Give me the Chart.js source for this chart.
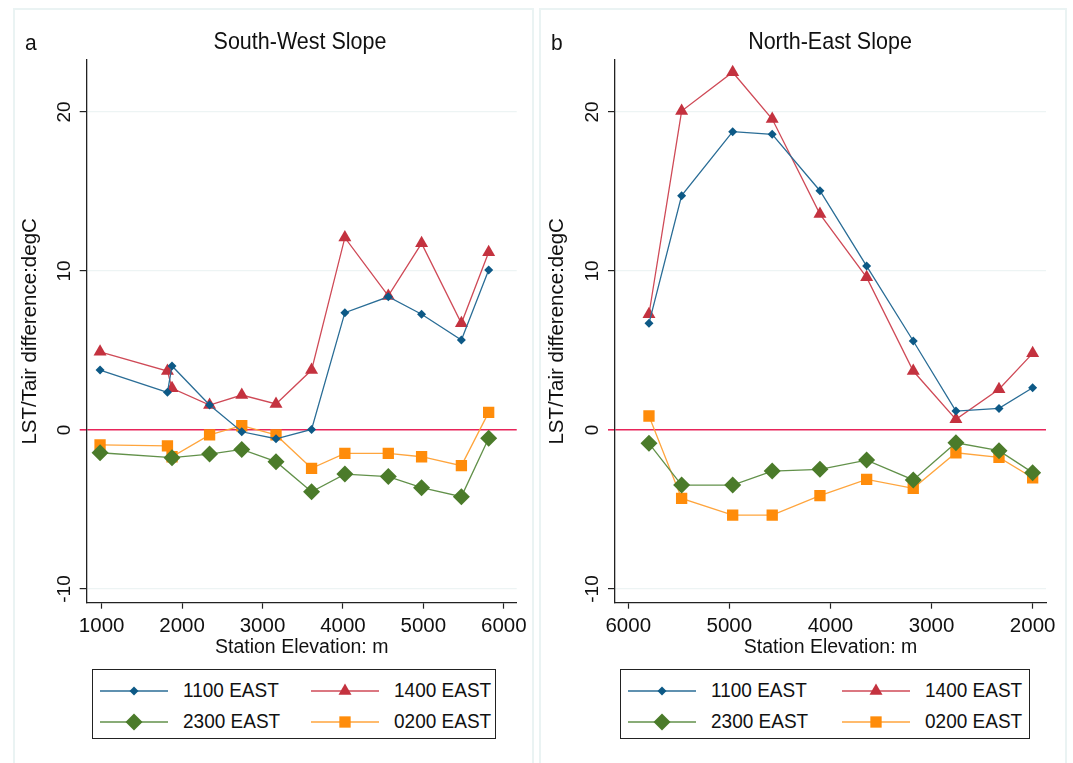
<!DOCTYPE html>
<html>
<head>
<meta charset="utf-8">
<script src="https://cdn.jsdelivr.net/npm/chart.js@4.4.1/dist/chart.umd.min.js"></script>
<style>
  body { margin: 0; background: #fff; font-family: "Liberation Sans", Arial, sans-serif; color: #111; }
  .wrap { position: relative; width: 1073px; height: 763px; overflow: hidden; }
  .panel { position: absolute; border: 2px solid #eaf3f3; box-sizing: border-box; }
  .cv { position: absolute; top: 0; }
  .lbl { position: absolute; transform: translate(0, -50%) scaleY(1.08); font-size: 21px; }
  .ttl { position: absolute; transform: translate(-50%, -50%) scaleY(1.08); font-size: 21.5px; white-space: nowrap; }
  .legend { position: absolute; top: 669px; height: 70px; border: 1.3px solid #222; box-sizing: border-box; }
  .item { position: absolute; height: 24px; }
  .item svg { position: absolute; left: 0; top: 0; }
  .item span { position: absolute; top: 0; line-height: 24px; font-size: 19px; white-space: nowrap; transform: scaleY(1.08); }
</style>
</head>
<body>
<div class="wrap">
  <div class="panel" style="left:13px; top:8px; width:521px; height:760px;"></div>
  <div class="panel" style="left:539px; top:8px; width:528px; height:760px;"></div>

  <canvas id="chartA" class="cv" width="518" height="665" style="left:14px;"></canvas>
  <canvas id="chartB" class="cv" width="524" height="665" style="left:541px;"></canvas>

  <div class="lbl" style="left:25px; top:42px;">a</div>
  <div class="ttl" style="left:300px; top:42px;">South-West Slope</div>
  <div class="lbl" style="left:551px; top:42px;">b</div>
  <div class="ttl" style="left:830px; top:42px;">North-East Slope</div>

  <div class="legend" id="legendA" style="left:92px; width:404px;"></div>
  <div class="legend" id="legendB" style="left:620px; width:410px;"></div>
</div>

<script>
// series names
const seriesNames = ['1100 EAST', '1400 EAST', '2300 EAST', '0200 EAST'];

// axis ticks
const yTickVals = [-10, 0, 10, 20];
const xTickVals = [1000, 2000, 3000, 4000, 5000, 6000];
const xTickValsB = [6000, 5000, 4000, 3000, 2000];

// a: South-West slope (station elevation, m)
const swElev = [980, 1818, 1875, 2342, 2742, 3168, 3610, 4024, 4564, 4978, 5473, 5812];
const sw1100 = [3.77, 2.37, 4.03, 1.57, -0.11, -0.55, 0.04, 7.38, 8.38, 7.28, 5.66, 10.06];
const sw1400 = [4.92, 3.71, 2.62, 1.57, 2.2, 1.64, 3.77, 12.1, 8.43, 11.74, 6.71, 11.18];
const sw2300 = [-1.43, null, -1.74, -1.51, -1.22, -1.99, -3.88, -2.77, -2.93, -3.63, -4.19, -0.52];
const sw0200 = [-0.94, -1.0, -1.68, -0.31, 0.27, -0.31, -2.41, -1.47, -1.47, -1.68, -2.24, 1.11];

// b: North-East slope
const neElev = [5795, 5472, 4967, 4576, 4104, 3642, 3181, 2759, 2333, 2000];
const ne1100 = [6.71, 14.74, 18.76, 18.6, 15.05, 10.31, 5.6, 1.19, 1.36, 2.66];
const ne1400 = [7.28, 20.06, 22.5, 19.56, 13.58, 9.6, 3.71, 0.67, 2.56, 4.82];
const ne2300 = [-0.84, -3.46, -3.46, -2.58, -2.47, -1.89, -3.14, -0.8, -1.3, -2.68];
const ne0200 = [0.88, -4.3, -5.35, -5.35, -4.13, -3.1, -3.67, -1.43, -1.72, -3.0];

const FONT = '"Liberation Sans", Arial, sans-serif';

// marker / line look for each series
const looks = [
    { line: '#2a6d96', fill: '#0d5986', style: 'rectRot', r: 4.5 },
    { line: '#cf4a57', fill: '#c4323f', style: 'triangle', r: 7.5 },
    { line: '#62914a', fill: '#4b7b2a', style: 'rectRot', r: 8.5 },
    { line: '#ffa53d', fill: '#ff8c0a', style: 'rect', r: 8 }
];

// y tick labels are vertical (Stata style)
const rotatedYTicks = {
    id: 'rotatedYTicks',
    afterDraw(chart) {
        const s = chart.scales.y;
        const ctx = chart.ctx;
        ctx.save();
        ctx.font = '19px ' + FONT;
        ctx.fillStyle = '#111';
        ctx.textAlign = 'center';
        ctx.textBaseline = 'alphabetic';
        s.ticks.forEach(t => {
            const y = s.getPixelForValue(t.value);
            ctx.save();
            ctx.translate(chart.chartArea.left - 17, y);
            ctx.rotate(-Math.PI / 2);
            ctx.fillText(String(t.value), 0, 0);
            ctx.restore();
        });
        ctx.restore();
    }
};

function toPoints(xs, ys) {
    return xs.map((x, i) => ({ x: x, y: ys[i] }));
}

function makeChart(id, elev, series, xMin, xMax, reverse, ticksX, leftW, padRight) {
    const ctx = document.getElementById(id).getContext('2d');
    return new Chart(ctx, {
        type: 'line',
        data: {
            datasets: series.map((vals, i) => ({
                label: seriesNames[i],
                data: toPoints(elev, vals),
                borderColor: looks[i].line,
                borderWidth: 1.3,
                backgroundColor: looks[i].fill,
                pointBackgroundColor: looks[i].fill,
                pointBorderColor: looks[i].fill,
                pointBorderWidth: 0,
                pointStyle: looks[i].style,
                pointRadius: looks[i].r,
                tension: 0,
                spanGaps: true
            }))
        },
        options: {
            responsive: false,
            animation: false,
            layout: { padding: { top: 60, right: padRight, left: 0, bottom: 0 } },
            plugins: { legend: { display: false }, tooltip: { enabled: false } },
            scales: {
                x: {
                    type: 'linear',
                    min: xMin, max: xMax, reverse: reverse,
                    afterBuildTicks: s => { s.ticks = ticksX.map(v => ({ value: v })); },
                    afterFit: s => { s.height = 62.3; },
                    grid: { drawOnChartArea: false, drawTicks: true, tickLength: 6, tickColor: '#222', tickWidth: 1.2 },
                    border: { color: '#222', width: 1.3 },
                    ticks: { color: '#111', font: { family: FONT, size: 20.5 }, padding: 5, maxRotation: 0,
                             callback: v => String(v) },
                    title: { display: true, text: 'Station Elevation: m', color: '#111',
                             font: { family: FONT, size: 19.5 }, padding: { top: 0, bottom: 6 } }
                },
                y: {
                    type: 'linear',
                    min: -10.86, max: 23.27,
                    afterBuildTicks: s => { s.ticks = yTickVals.map(v => ({ value: v })); },
                    afterFit: s => { s.width = leftW; },
                    grid: {
                        color: c => (c.tick && c.tick.value === 0) ? '#e8245a' : '#edf4f4',
                        lineWidth: c => (c.tick && c.tick.value === 0) ? 1.6 : 1.2,
                        tickColor: c => (c.tick && c.tick.value === 0) ? '#e8245a' : '#222',
                        tickLength: 7
                    },
                    border: { color: '#222', width: 1.3 },
                    ticks: { display: false },
                    title: { display: true, text: 'LST/Tair difference:degC', color: '#111',
                             font: { family: FONT, size: 20.5 }, padding: { top: 4, bottom: 0 } }
                }
            }
        },
        plugins: [rotatedYTicks]
    });
}

makeChart('chartA', swElev, [sw1100, sw1400, sw2300, sw0200], 814, 6161, false, xTickVals, 72.7, 13.7);
makeChart('chartB', neElev, [ne1100, ne1400, ne2300, ne0200], 1868, 6131, true, xTickValsB, 74, 19);

// legend boxes (two columns, two rows)
function markerSvg(look) {
    const cx = 34, cy = 12, r = look.r;
    let shape = '';
    if (look.style === 'rectRot') {
        shape = `<polygon points="${cx},${cy - r} ${cx + r},${cy} ${cx},${cy + r} ${cx - r},${cy}" fill="${look.fill}"/>`;
    } else if (look.style === 'triangle') {
        const h = r * 1.5, w = r * Math.sqrt(3);
        shape = `<polygon points="${cx},${cy - r} ${cx + w / 2},${cy + h - r} ${cx - w / 2},${cy + h - r}" fill="${look.fill}"/>`;
    } else {
        const s = r * Math.SQRT1_2;
        shape = `<rect x="${cx - s}" y="${cy - s}" width="${2 * s}" height="${2 * s}" fill="${look.fill}"/>`;
    }
    return `<svg width="68" height="24"><line x1="0" y1="12" x2="68" y2="12" stroke="${look.line}" stroke-width="1.5"/>${shape}</svg>`;
}

function buildLegend(id, col2) {
    const box = document.getElementById(id);
    const spots = [[7, 9], [col2, 9], [7, 40], [col2, 40]];
    seriesNames.forEach((name, i) => {
        const it = document.createElement('div');
        it.className = 'item';
        it.style.left = spots[i][0] + 'px';
        it.style.top = spots[i][1] + 'px';
        it.innerHTML = markerSvg(looks[i]) + `<span style="left:83px">${name}</span>`;
        box.appendChild(it);
    });
}
buildLegend('legendA', 218);
buildLegend('legendB', 221);
</script>
</body>
</html>
